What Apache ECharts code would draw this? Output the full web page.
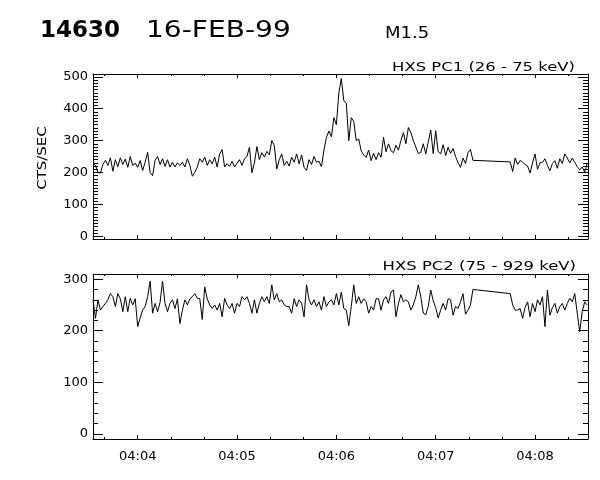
<!DOCTYPE html>
<html>
<head>
<meta charset="utf-8">
<script src="https://cdn.jsdelivr.net/npm/echarts@6/dist/echarts.min.js"></script>
<style>
  html, body { margin: 0; padding: 0; background: #fff; }
  #chart { width: 600px; height: 480px; }
</style>
</head>
<body>
<div id="chart"></div>
<script>
// time is seconds after 04:00:00 UT, one sample every 1.5 s
const sampleStart = 213
const sampleStep = 1.5
const timeMin = 213
const timeMax = 512
const timeTicks = [240, 300, 360, 420, 480]
const timeMinorTicks = [220, 260, 280, 320, 340, 380, 400, 440, 460, 500]

const pc1Ticks = [0, 100, 200, 300, 400, 500]
const pc2Ticks = [0, 100, 200, 300]

// HXS PC1 (26 - 75 keV), cts/sec (null = no data, line is joined across)
const pc1Values = [
  228, 222, 200, 198, 225, 238, 222, 246, 204, 240,
  218, 246, 225, 242, 216, 250, 222, 229, 216, 237,
  206, 232, 263, 200, 190, 238, 250, 225, 243, 219,
  240, 217, 232, 217, 230, 222, 232, 217, 243, 222,
  188, 200, 217, 243, 232, 248, 222, 240, 227, 248,
  217, 258, 272, 217, 227, 219, 235, 217, 229, 240,
  222, 243, 250, 279, 199, 230, 281, 240, 262, 248,
  266, 255, 300, 285, 211, 240, 258, 222, 235, 220,
  248, 232, 258, 227, 255, 216, 206, 240, 225, 250,
  232, 235, 218, 270, 310, 330, 312, 372, 350, 450,
  495, 425, 418, 300, 372, 360, 300, 305, 268, 255,
  247, 270, 237, 260, 240, 262, 248, 310, 265, 290,
  268, 262, 285, 270, 300, 325, 290, 341, 325, 300,
  280, 259, 263, 290, 258, 295, 333, 259, 331, 265,
  258, 287, 253, 279, 260, 275, 250, 230, 216, 245,
  228, 262, 272, 238, null, null, null, null, null, null,
  null, null, null, null, null, null, null, null, 233, 203,
  245, 225, 238, 232, 225, 220, 198, 230, 258, 210,
  230, 232, 243, 222, 205, 228, 237, 213, 243, 228,
  258, 245, 230, 245, 232, 218, 208, 217, 201, 228
]

// HXS PC2 (75 - 929 keV), cts/sec
const pc2Values = [
  260, 224, 260, 240, 247, 253, 260, 272, 266, 247,
  272, 262, 237, 266, 237, 263, 250, 262, 208, 225,
  240, 247, 266, 296, 234, 253, 237, 255, 296, 253,
  237, 253, 260, 243, 262, 214, 240, 260, 250, 262,
  266, 272, 263, 262, 222, 285, 262, 250, 243, 250,
  240, 253, 227, 263, 250, 243, 253, 234, 253, 247,
  266, 260, 266, 253, 234, 260, 234, 253, 266, 256,
  266, 253, 289, 260, 272, 256, 260, 250, 247, 247,
  234, 262, 247, 260, 253, 227, 289, 260, 250, 260,
  247, 256, 240, 266, 247, 256, 260, 250, 272, 250,
  275, 243, 240, 210, 247, 289, 253, 266, 253, 262,
  256, 234, 247, 240, 262, 262, 240, 260, 266, 253,
  275, 279, 227, 253, 270, 256, 260, 256, 240, 250,
  266, 289, 266, 234, 231, 247, 279, 258, 245, 225,
  240, 253, 240, 262, 260, 230, 247, 243, 256, 272,
  232, 240, 250, 280, null, null, null, null, null, null,
  null, null, null, null, null, null, null, null, 272, 250,
  240, 240, 243, 224, 245, 256, 227, 253, 237, 260,
  250, 266, 208, 279, 230, 245, 253, 234, 247, 253,
  240, 253, 263, 256, 272, 234, 198, 237, 256, 250
]

const black = '#000'
const font = 'DejaVu Sans'

function minorList(lo, hi, step, majors) {
  let out = []
  for (let v = lo; v <= hi; v += step) {
    if (majors.indexOf(v) < 0) out.push(v)
  }
  return out
}

function hhmm(v) {
  let m = Math.floor(v / 60)
  return '04:' + (m < 10 ? '0' + m : m)
}

function toPoints(values) {
  return values.map((v, i) => [sampleStart + i * sampleStep, v])
}

// 4 x axes per grid: bottom major/minor, top major/minor (IDL style box)
function makeXAxes(gridIndex, showLabels) {
  let base = { type: 'value', gridIndex, min: timeMin, max: timeMax, splitLine: { show: false } }
  let line = { show: true, onZero: false, lineStyle: { color: black, width: 1 } }
  let noLine = { show: false, onZero: false }
  return [
    { ...base, position: 'bottom', axisLine: line,
      axisTick: { inside: true, length: 4, customValues: timeTicks, lineStyle: { color: black } },
      axisLabel: { show: showLabels, customValues: timeTicks, formatter: hhmm, color: black,
        fontFamily: font, fontSize: 13, margin: 11 } },
    { ...base, position: 'bottom', axisLine: noLine,
      axisTick: { inside: true, length: 2, customValues: timeMinorTicks, lineStyle: { color: black } },
      axisLabel: { show: false } },
    { ...base, position: 'top', axisLine: line,
      axisTick: { inside: true, length: 4, customValues: timeTicks, lineStyle: { color: black } },
      axisLabel: { show: false } },
    { ...base, position: 'top', axisLine: noLine,
      axisTick: { inside: true, length: 2, customValues: timeMinorTicks, lineStyle: { color: black } },
      axisLabel: { show: false } }
  ]
}

function makeYAxes(gridIndex, min, max, majors, minors) {
  let base = { type: 'value', gridIndex, min, max, splitLine: { show: false } }
  let line = { show: true, onZero: false, lineStyle: { color: black, width: 1 } }
  let noLine = { show: false, onZero: false }
  return [
    { ...base, position: 'left', axisLine: line,
      axisTick: { inside: true, length: 10, customValues: majors, lineStyle: { color: black } },
      axisLabel: { customValues: majors, color: black, fontFamily: font, fontSize: 13, margin: 5 } },
    { ...base, position: 'left', axisLine: noLine,
      axisTick: { inside: true, length: 5, customValues: minors, lineStyle: { color: black } },
      axisLabel: { show: false } },
    { ...base, position: 'right', axisLine: line,
      axisTick: { inside: true, length: 10, customValues: majors, lineStyle: { color: black } },
      axisLabel: { show: false } },
    { ...base, position: 'right', axisLine: noLine,
      axisTick: { inside: true, length: 5, customValues: minors, lineStyle: { color: black } },
      axisLabel: { show: false } }
  ]
}

function label(text, x, y, size, opts) {
  return Object.assign({
    type: 'text', x, y,
    style: {
      text, fill: black, font: (opts && opts.bold ? 'bold ' : '') + size + 'px "' + font + '"',
      textAlign: (opts && opts.align) || 'left', textVerticalAlign: 'middle'
    }
  }, opts && opts.el)
}

const chart = echarts.init(document.getElementById('chart'), null, { renderer: 'canvas' })

chart.setOption({
  animation: false,
  backgroundColor: '#fff',
  grid: [
    { left: 93, right: 12, top: 74, height: 165 },
    { left: 93, right: 12, top: 274, height: 165 }
  ],
  xAxis: makeXAxes(0, false).concat(makeXAxes(1, true)),
  yAxis: makeYAxes(0, -9, 509, pc1Ticks, minorList(0, 500, 10, pc1Ticks))
    .concat(makeYAxes(1, -10, 310, pc2Ticks, minorList(0, 300, 20, pc2Ticks))),
  graphic: [
    label('14630', 40, 31, 23, { bold: true }),
    label('16-FEB-99', 146, 31, 23, { el: { scaleX: 1.22 } }),
    label('M1.5', 385, 34, 15, { el: { scaleX: 1.2 } }),
    label('HXS PC1 (26 - 75 keV)', 575, 68, 12, { align: 'right', el: { scaleX: 1.37 } }),
    label('HXS PC2 (75 - 929 keV)', 576, 267, 12, { align: 'right', el: { scaleX: 1.37 } }),
    label('CTS/SEC', 43, 158, 13, { align: 'center', el: { rotation: Math.PI / 2, scaleX: 1.15 } })
  ],
  series: [
    {
      name: 'PC1', type: 'line', xAxisIndex: 0, yAxisIndex: 0,
      data: toPoints(pc1Values), symbol: 'none', connectNulls: true,
      lineStyle: { color: black, width: 1 }
    },
    {
      name: 'PC2', type: 'line', xAxisIndex: 4, yAxisIndex: 4,
      data: toPoints(pc2Values), symbol: 'none', connectNulls: true,
      lineStyle: { color: black, width: 1 }
    }
  ]
})
</script>
</body>
</html>
